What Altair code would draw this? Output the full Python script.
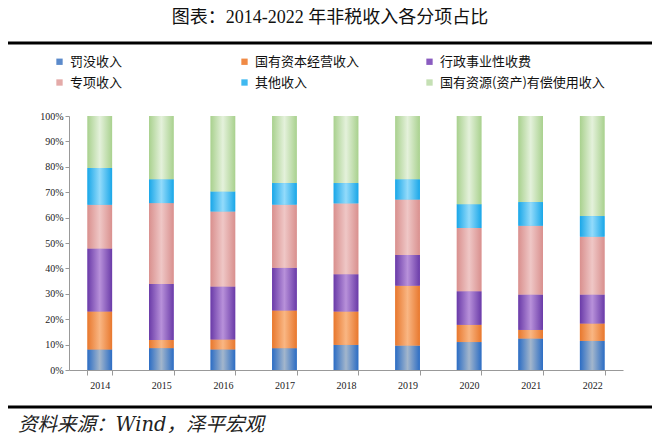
import altair as alt
import pandas as pd

years = ["2014", "2015", "2016", "2017", "2018", "2019", "2020", "2021", "2022"]
series = ["罚没收入", "国有资本经营收入", "行政事业性收费",
          "专项收入", "其他收入", "国有资源(资产)有偿使用收入"]
fine = [8.1, 8.6, 8.1, 8.6, 9.9, 9.6, 11.0, 12.4, 11.5]
soe = [14.9, 3.2, 3.9, 14.8, 13.1, 23.6, 6.8, 3.4, 6.8]
admin = [24.8, 22.1, 20.9, 16.9, 14.7, 12.1, 13.2, 13.9, 11.4]
special = [17.3, 31.8, 29.5, 24.8, 27.9, 21.8, 24.9, 27.1, 22.8]
other = [14.4, 9.4, 7.9, 8.5, 8.0, 8.0, 9.4, 9.3, 8.1]
resource = [20.5, 24.9, 29.7, 26.4, 26.4, 24.9, 34.7, 33.9, 39.4]
all_values = [fine, soe, admin, special, other, resource]

legend_colors = ["#5B8ACB", "#F08A45", "#8A5CC0", "#E4AAA8", "#40B9F0", "#C5E0B4"]
edge_colors = ["#2C6DC4", "#E8782E", "#6A3BA8", "#D9908E", "#1AA7E8", "#A9D18E"]
center_colors = ["#A3B6CC", "#F9B683", "#B891DA", "#EFC7C6", "#93DBFB", "#E4F1DB"]

rows = []
for si, (name, vals) in enumerate(zip(series, all_values)):
    for y, v in zip(years, vals):
        rows.append({"year": y, "series": name, "idx": si, "value": v})
df = pd.DataFrame(rows)

serif = "Liberation Serif, Noto Sans CJK SC"
cjk = "Noto Sans CJK SC"

base = alt.Chart(df).transform_stack(
    stack="value", groupby=["year"], as_=["v0", "v1"],
    offset="normalize", sort=[alt.SortField("idx", order="ascending")]
)

x_enc = alt.X("year:N", sort=years, title=None,
              scale=alt.Scale(paddingInner=0.6, paddingOuter=0.3),
              axis=alt.Axis(labelAngle=0, tickBand="extent", tickSize=5,
                            labelFont="Liberation Serif", labelFontSize=10,
                            labelColor="#222", labelPadding=5, grid=False,
                            domainColor="#999", tickColor="#999"))
y_enc = alt.Y("v0:Q", title=None,
              scale=alt.Scale(domain=[0, 1], nice=False),
              axis=alt.Axis(format=".0%", values=[i / 10 for i in range(11)],
                            grid=False, tickSize=4, labelFont="Liberation Serif",
                            labelFontSize=10, labelColor="#222", labelPadding=2,
                            domainColor="#999", tickColor="#999"))

legend_layer = base.mark_bar().encode(
    x=x_enc, y=y_enc, y2="v1:Q",
    color=alt.Color("series:N", sort=series,
                    scale=alt.Scale(domain=series, range=legend_colors),
                    legend=alt.Legend(title=None, orient="none", columns=3,
                                      legendX=-16, legendY=-61,
                                      direction="horizontal",
                                      gridAlign="all", columnPadding=3,
                                      rowPadding=7, symbolType="square",
                                      symbolSize=40, symbolStrokeWidth=0,
                                      labelFont=cjk, labelFontSize=13,
                                      labelColor="#111", labelOffset=4,
                                      labelLimit=300))
)

layers = [legend_layer]
for si, name in enumerate(series):
    grad = alt.LinearGradient(
        gradient="linear", x1=0, x2=1, y1=0, y2=0,
        stops=[alt.GradientStop(color=edge_colors[si], offset=0),
               alt.GradientStop(color=center_colors[si], offset=0.5),
               alt.GradientStop(color=edge_colors[si], offset=1)])
    layers.append(
        base.transform_filter(alt.datum.idx == si)
        .mark_bar(color=grad)
        .encode(x=x_enc, y=y_enc, y2="v1:Q")
    )

one = pd.DataFrame({"k": [0]})
title_mark = alt.Chart(one).mark_text(
    text="图表：2014-2022 年非税收入各分项占比", font=serif, fontSize=18,
    color="#111", align="center", baseline="middle"
).encode(x=alt.value(261), y=alt.value(-98))
top_rule = alt.Chart(one).mark_rule(color="#000", strokeWidth=3).encode(
    x=alt.value(-61), x2=alt.value(583), y=alt.value(-73))
bottom_rule = alt.Chart(one).mark_rule(color="#000", strokeWidth=3).encode(
    x=alt.value(-61), x2=alt.value(583), y=alt.value(291))
source_mark = alt.Chart(one).mark_text(
    text="资料来源：Wind，泽平宏观", font="DejaVu Serif, Noto Sans CJK SC",
    fontSize=19.5, fontStyle="italic",
    color="#222", align="left", baseline="middle"
).encode(x=alt.value(-51), y=alt.value(309))

chart = alt.layer(*layers, title_mark, top_rule, bottom_rule, source_mark).properties(
    width=554, height=254,
    autosize=alt.AutoSizeParams(type="none"),
    padding={"left": 61, "top": 108, "right": 29, "bottom": 67},
    background="white",
).configure_view(stroke="transparent")

chart.save("out.html", embed_options={"renderer": "svg", "actions": False})
